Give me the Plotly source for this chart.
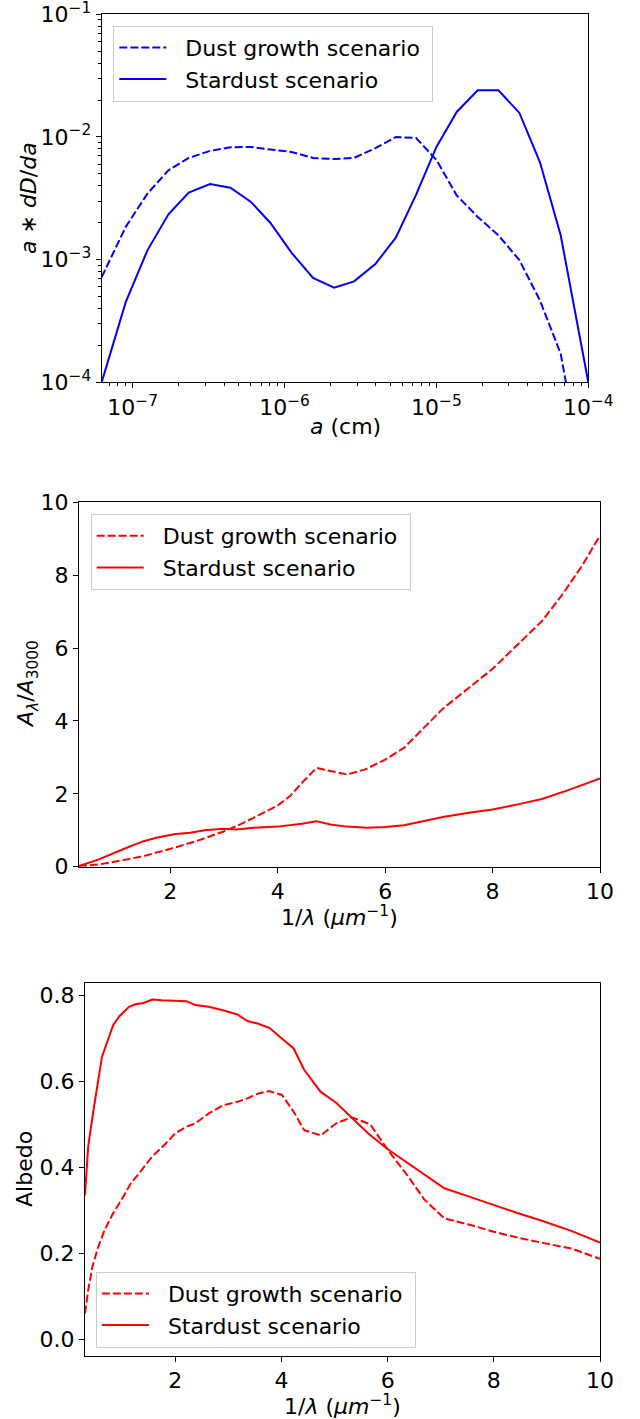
import plotly.graph_objects as go

# ---------------- Panel 1: size distribution ----------------
a_cm = [6.25e-8, 9.0e-8, 1.25e-7, 1.72e-7, 2.34e-7, 3.23e-7, 4.40e-7, 5.98e-7, 8.05e-7,
        1.11e-6, 1.54e-6, 2.12e-6, 2.87e-6, 3.96e-6, 5.40e-6, 7.35e-6, 1.0e-5, 1.36e-5,
        1.87e-5, 2.56e-5, 3.52e-5, 4.80e-5, 6.58e-5, 9.0e-5, 1.0e-4]
dist_growth = [7.2e-4, 1.85e-3, 3.45e-3, 5.35e-3, 6.75e-3, 7.7e-3, 8.24e-3, 8.3e-3, 7.9e-3,
               7.55e-3, 6.75e-3, 6.6e-3, 6.75e-3, 8.1e-3, 1.0e-2, 9.8e-3, 6.5e-3, 3.34e-3,
               2.23e-3, 1.58e-3, 9.9e-4, 4.66e-4, 1.71e-4, 1.9e-5, 1.0e-5]
dist_stardust = [1.0e-4, 4.5e-4, 1.19e-3, 2.34e-3, 3.52e-3, 4.14e-3, 3.86e-3, 2.97e-3, 2.0e-3,
                 1.14e-3, 7.1e-4, 5.9e-4, 6.65e-4, 9.2e-4, 1.51e-3, 3.39e-3, 8.3e-3, 1.6e-2,
                 2.4e-2, 2.4e-2, 1.57e-2, 6.25e-3, 1.58e-3, 2.0e-4, 1.0e-4]

# ---------------- Panel 2: extinction curve ----------------
ext_x_growth = [0.3, 0.67, 1.12, 1.5, 2.0, 2.48, 2.98, 3.24, 3.55, 4.0, 4.23, 4.45, 4.72,
                4.98, 5.29, 5.63, 6.0, 6.35, 6.73, 7.07, 7.56, 8.0, 8.47, 8.92, 9.3, 9.68, 10.0]
ext_y_growth = [0.02, 0.06, 0.18, 0.29, 0.49, 0.70, 0.96, 1.12, 1.34, 1.68, 1.94, 2.30, 2.71,
                2.62, 2.53, 2.67, 2.94, 3.26, 3.81, 4.33, 4.91, 5.43, 6.10, 6.74, 7.47, 8.29, 9.09]
ext_x_star = [0.3, 0.67, 1.12, 1.27, 1.5, 1.76, 2.1, 2.37, 2.64, 2.98, 3.24, 3.55, 4.0, 4.45,
              4.72, 4.98, 5.29, 5.67, 6.0, 6.35, 6.73, 7.1, 7.56, 8.0, 8.47, 8.92, 9.41, 10.0]
ext_y_star = [0.02, 0.20, 0.48, 0.57, 0.70, 0.80, 0.90, 0.93, 1.0, 1.04, 1.02, 1.07, 1.10, 1.18,
              1.25, 1.16, 1.10, 1.07, 1.09, 1.14, 1.25, 1.37, 1.48, 1.57, 1.71, 1.86, 2.10, 2.42]

# ---------------- Panel 3: albedo ----------------
alb_x_star = [0.30, 0.36, 0.46, 0.62, 0.83, 0.94, 1.13, 1.25, 1.4, 1.57, 1.75, 2.0, 2.21, 2.38,
              2.63, 2.9, 3.17, 3.36, 3.55, 3.77, 4.01, 4.23, 4.43, 4.74, 5.03, 5.28, 5.63, 6.01,
              6.39, 6.74, 7.07, 7.55, 8.0, 8.46, 8.92, 9.46, 10.0]
alb_y_star = [0.335, 0.448, 0.533, 0.657, 0.730, 0.750, 0.773, 0.779, 0.782, 0.790, 0.788, 0.786,
              0.786, 0.777, 0.773, 0.765, 0.755, 0.740, 0.734, 0.724, 0.699, 0.676, 0.626, 0.575,
              0.550, 0.521, 0.479, 0.441, 0.409, 0.379, 0.351, 0.331, 0.312, 0.293, 0.275, 0.252,
              0.225]
alb_x_growth = [0.30, 0.36, 0.44, 0.55, 0.67, 0.83, 1.02, 1.16, 1.32, 1.56, 1.79, 2.0, 2.21, 2.38,
                2.63, 2.9, 3.17, 3.36, 3.55, 3.77, 4.01, 4.23, 4.43, 4.74, 5.03, 5.32, 5.67, 6.01,
                6.39, 6.69, 7.07, 7.55, 8.0, 8.46, 8.92, 9.46, 10.0]
alb_y_growth = [0.060, 0.114, 0.169, 0.215, 0.254, 0.293, 0.331, 0.362, 0.386, 0.424, 0.451,
                0.479, 0.494, 0.502, 0.525, 0.544, 0.552, 0.560, 0.571, 0.577, 0.568, 0.529,
                0.486, 0.474, 0.502, 0.516, 0.500, 0.439, 0.378, 0.325, 0.281, 0.266, 0.250,
                0.236, 0.224, 0.211, 0.187]

labels = ["Dust growth scenario", "Stardust scenario"]
log_major = [1e-7, 1e-6, 1e-5, 1e-4]
log_major_text = ["10<sup>−7</sup>", "10<sup>−6</sup>", "10<sup>−5</sup>", "10<sup>−4</sup>"]
log_major_y = [1e-4, 1e-3, 1e-2, 1e-1]
log_major_y_text = ["10<sup>−4</sup>", "10<sup>−3</sup>", "10<sup>−2</sup>", "10<sup>−1</sup>"]
lin_ticks2 = [0, 2, 4, 6, 8, 10]
x_ticks = [2, 4, 6, 8, 10]
alb_ticks = [0.0, 0.2, 0.4, 0.6, 0.8]
alb_ticktext = ["0.0", "0.2", "0.4", "0.6", "0.8"]

FONT = "DejaVu Sans"
FS = 22
BLUE = "#0000ff"
RED = "#ff0000"
DASH = "8px,3px"
LW = 2
NB = "\u00a0"


def leg_name(s):
    return NB * 2 + s + NB


fig = go.Figure()
fig.add_trace(go.Scatter(x=a_cm, y=dist_growth, mode="lines", name=leg_name(labels[0]),
                         line=dict(color=BLUE, width=LW, dash=DASH),
                         xaxis="x", yaxis="y", legend="legend"))
fig.add_trace(go.Scatter(x=a_cm, y=dist_stardust, mode="lines", name=leg_name(labels[1]),
                         line=dict(color=BLUE, width=LW),
                         xaxis="x", yaxis="y", legend="legend"))
fig.add_trace(go.Scatter(x=ext_x_growth, y=ext_y_growth, mode="lines", name=leg_name(labels[0]),
                         line=dict(color=RED, width=LW, dash=DASH),
                         xaxis="x2", yaxis="y2", legend="legend2"))
fig.add_trace(go.Scatter(x=ext_x_star, y=ext_y_star, mode="lines", name=leg_name(labels[1]),
                         line=dict(color=RED, width=LW),
                         xaxis="x2", yaxis="y2", legend="legend2"))
fig.add_trace(go.Scatter(x=alb_x_growth, y=alb_y_growth, mode="lines", name=leg_name(labels[0]),
                         line=dict(color=RED, width=LW, dash=DASH),
                         xaxis="x3", yaxis="y3", legend="legend3"))
fig.add_trace(go.Scatter(x=alb_x_star, y=alb_y_star, mode="lines", name=leg_name(labels[1]),
                         line=dict(color=RED, width=LW),
                         xaxis="x3", yaxis="y3", legend="legend3"))

W, H = 640, 1419
axis_common = dict(showline=True, linecolor="black", linewidth=1.1, mirror=True,
                   ticks="outside", ticklen=5, tickwidth=1.1, tickcolor="black",
                   showgrid=False, zeroline=False, ticklabeloverflow="allow",
                   tickfont=dict(family=FONT, size=FS, color="black"))

minor_x = [m * 10 ** e for e in range(-8, -4) for m in range(2, 10)]
minor_y = [m * 10 ** e for e in range(-4, -1) for m in range(2, 10)]

fig.update_layout(
    width=W, height=H,
    margin=dict(l=0, r=0, t=0, b=0, autoexpand=False),
    paper_bgcolor="white", plot_bgcolor="white",
    font=dict(family=FONT, size=FS, color="black"),
    xaxis=dict(axis_common, type="log", range=[-7.204, -4.0],
               domain=[101.7 / W, 588.3 / W], anchor="y",
               tickmode="array", tickvals=log_major, ticktext=log_major_text,
               minor=dict(ticks="outside", ticklen=3, tickwidth=0.8, tickcolor="black",
                          tickvals=minor_x, showgrid=False)),
    yaxis=dict(axis_common, type="log", range=[-4.0, -1.0],
               domain=[1 - 382.3 / H, 1 - 14.3 / H], anchor="x",
               tickmode="array", tickvals=log_major_y, ticktext=log_major_y_text,
               minor=dict(ticks="outside", ticklen=3, tickwidth=0.8, tickcolor="black",
                          tickvals=minor_y, showgrid=False)),
    xaxis2=dict(axis_common, range=[0.3, 10.0],
                domain=[79 / W, 600 / W], anchor="y2",
                tickmode="array", tickvals=x_ticks),
    yaxis2=dict(axis_common, range=[0, 10],
                domain=[1 - 866.7 / H, 1 - 502.3 / H], anchor="x2",
                tickmode="array", tickvals=lin_ticks2),
    xaxis3=dict(axis_common, range=[0.3, 10.0],
                domain=[85 / W, 600 / W], anchor="y3",
                tickmode="array", tickvals=x_ticks),
    yaxis3=dict(axis_common, range=[-0.039, 0.829],
                domain=[1 - 1356 / H, 1 - 982.7 / H], anchor="x3",
                tickmode="array", tickvals=alb_ticks, ticktext=alb_ticktext),
    showlegend=True,
)

leg_common = dict(bgcolor="rgba(255,255,255,0.8)", bordercolor="#cccccc", borderwidth=1,
                  font=dict(family=FONT, size=FS, color="black"),
                  xanchor="left", yanchor="top", itemwidth=47, tracegroupgap=0)
fig.update_layout(
    legend=dict(leg_common, x=113.3 / W, y=1 - 25.7 / H),
    legend2=dict(leg_common, x=90.7 / W, y=1 - 514 / H),
    legend3=dict(leg_common, x=95.9 / W, y=1 - 1271.7 / H),
)

ann = []


def title(text, x, y, angle=0):
    ann.append(dict(text=text, x=x / W, y=1 - y / H, xref="paper", yref="paper",
                    showarrow=False, textangle=angle, xanchor="center", yanchor="middle",
                    font=dict(family=FONT, size=FS, color="black")))


title("<i>a</i> (cm)", 345, 427)
title("<i>a</i> ∗ <i>dD</i>/<i>da</i>", 28, 198, -90)
title("1/<i>λ</i> (<i>μm</i><sup>−1</sup>)", 339.5, 916)
title("<i>A</i><sub><i>λ</i></sub>/<i>A</i><sub>3000</sub>", 27, 684, -90)
title("1/<i>λ</i> (<i>μm</i><sup>−1</sup>)", 342.5, 1405)
title("Albedo", 24, 1169, -90)
fig.update_layout(annotations=ann)

fig.write_html("out.html")
